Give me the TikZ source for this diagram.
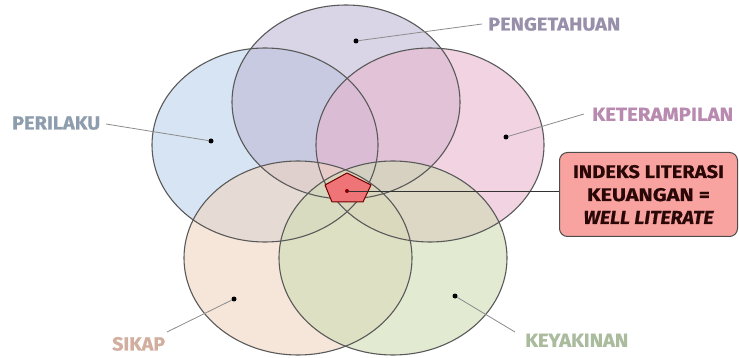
\documentclass[tikz,border=0pt]{standalone}
\usepackage{fontspec}
\usepackage{graphicx}
\setmainfont{Fira Sans}[BoldFeatures={FakeBold=0.6}, BoldItalicFeatures={FakeBold=0.6}]
\usetikzlibrary{calc}
\newcommand{\fitlbl}[3]{\resizebox{#1pt}{#2pt}{\bfseries #3}}
\definecolor{cPur}{HTML}{C0B9D5}
\definecolor{cBlu}{HTML}{BBD2EB}
\definecolor{cPnk}{HTML}{E8B6CD}
\definecolor{cBei}{HTML}{F0D5C1}
\definecolor{cGrn}{HTML}{CFDCB4}
\definecolor{tPur}{HTML}{9890AA}
\definecolor{tBlu}{HTML}{8E9DAE}
\definecolor{tPnk}{HTML}{B88AB0}
\definecolor{tBei}{HTML}{D2AE9E}
\definecolor{tGrn}{HTML}{AABB9E}
\definecolor{boxfill}{HTML}{F8A3A0}
\definecolor{boxtext}{HTML}{2A0808}
\definecolor{pentfill}{HTML}{EE7478}
\tikzset{
  setfill/.style={fill=#1, fill opacity=0.6, draw=none},
  setline/.style={draw=black!65, line width=1.1pt},
  lbl/.style={inner sep=0pt, anchor=south west},
  leader/.style={draw=black!45, line width=0.8pt},
  dotm/.style={circle, fill=black, inner sep=0pt, minimum size=5pt},
}
\begin{document}
\begin{tikzpicture}[x=1pt,y=-1pt]
\useasboundingbox (0,0) rectangle (739,358);
% fills
\fill[setfill=cBlu] (265,145) ellipse [x radius=113, y radius=97];
\fill[setfill=cPur] (346,102) ellipse [x radius=114, y radius=97];
\fill[setfill=cPnk] (430,145) ellipse [x radius=114, y radius=97];
\fill[setfill=cBei] (298,258) ellipse [x radius=114, y radius=97];
\fill[setfill=cGrn] (393,258) ellipse [x radius=114, y radius=97];
% outlines
\draw[setline] (265,145) ellipse [x radius=113, y radius=97];
\draw[setline] (346,102) ellipse [x radius=114, y radius=97];
\draw[setline] (430,145) ellipse [x radius=114, y radius=97];
\draw[setline] (298,258) ellipse [x radius=114, y radius=97];
\draw[setline] (393,258) ellipse [x radius=114, y radius=97];
% dots
\node[dotm] (dPen) at (356,41) {};
\node[dotm] (dPer) at (211,141) {};
\node[dotm] (dKet) at (506,137) {};
\node[dotm] (dSik) at (234,299) {};
\node[dotm] (dKey) at (455,296) {};
% labels
\node[lbl, text=tPur] (lPen) at (488,31) {\fitlbl{132}{13}{PENGETAHUAN}};
\node[lbl, text=tBlu] (lPer) at (12,130) {\fitlbl{88}{13}{PERILAKU}};
\node[lbl, text=tPnk] (lKet) at (592,121) {\fitlbl{141}{13}{KETERAMPILAN}};
\node[lbl, text=tBei] (lSik) at (112,351) {\fitlbl{53}{13.5}{SIKAP}};
\node[lbl, text=tGrn] (lKey) at (525,347) {\fitlbl{103}{13}{KEYAKINAN}};
% leaders
\coordinate (ePen) at (482,24);
\coordinate (ePer) at (106,124);
\coordinate (eKet) at (584,114);
\coordinate (eSik) at (167,332);
\coordinate (eKey) at (515,332);
\draw[leader] (ePen) -- (dPen);
\draw[leader] (ePer) -- (dPer);
\draw[leader] (eKet) -- (dKet);
\draw[leader] (eSik) -- (dSik);
\draw[leader] (eKey) -- (dKey);
% pentagon
\draw[fill=pentfill, draw=red!45!black, line width=1pt, line join=round]
  (347,173) -- (371,185) -- (363,202) -- (332,202) -- (325,185) -- cycle;
\node[circle, fill=red!50!black, inner sep=0pt, minimum size=4pt] (dInd) at (347,191) {};
% box
\node[draw=black!70, line width=1pt, fill=boxfill, rounded corners=8pt,
      minimum width=178pt, minimum height=84pt, inner sep=0pt, align=center,
      text=boxtext, font=\fontsize{13}{23}\selectfont, anchor=north west] (box) at (559,152)
  {\fitlbl{151}{13}{INDEKS LITERASI}\\\fitlbl{123}{13}{KEUANGAN =}\\\fitlbl{130}{13}{\itshape WELL LITERATE}};
\draw[black!80, line width=0.9pt] (dInd) -- (dInd -| box.west);
\end{tikzpicture}
\end{document}
